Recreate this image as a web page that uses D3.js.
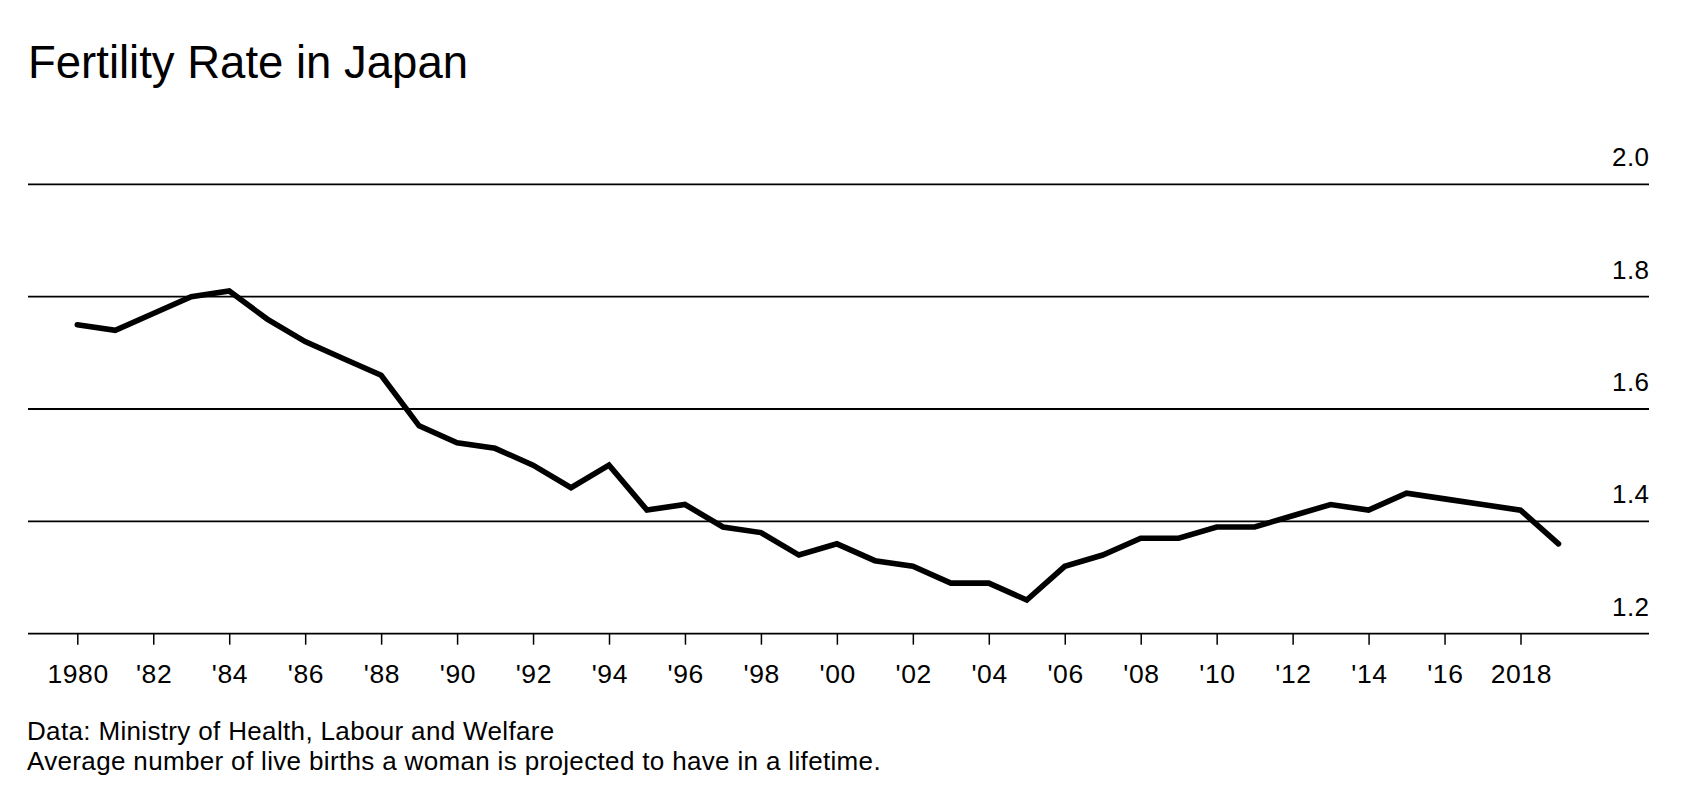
<!DOCTYPE html>
<html>
<head>
<meta charset="utf-8">
<script src="https://cdn.jsdelivr.net/npm/d3@7"></script>
<style>
  html, body { margin: 0; padding: 0; background: #fff; }
  svg { display: block; }
  text { font-family: "Liberation Sans", Arial, Helvetica, sans-serif; fill: #000; }
</style>
</head>
<body>
<svg id="chart" width="1696" height="800"></svg>
<script>
// ---- data ----
const years = [1980,1981,1982,1983,1984,1985,1986,1987,1988,1989,1990,1991,1992,1993,1994,1995,1996,1997,1998,1999,
               2000,2001,2002,2003,2004,2005,2006,2007,2008,2009,2010,2011,2012,2013,2014,2015,2016,2017,2018,2019];
const fertility = [1.75,1.74,1.77,1.80,1.81,1.76,1.72,1.69,1.66,1.57,1.54,1.53,1.50,1.46,1.50,1.42,1.43,1.39,1.38,1.34,
                   1.36,1.33,1.32,1.29,1.29,1.26,1.32,1.34,1.37,1.37,1.39,1.39,1.41,1.43,1.42,1.45,1.44,1.43,1.42,1.36];
const yTicks = [1.2, 1.4, 1.6, 1.8, 2.0];
const yTickLabels = ["1.2", "1.4", "1.6", "1.8", "2.0"];
const xTickYears = [1980,1982,1984,1986,1988,1990,1992,1994,1996,1998,2000,2002,2004,2006,2008,2010,2012,2014,2016,2018];
const xTickLabels = ["1980","'82","'84","'86","'88","'90","'92","'94","'96","'98","'00","'02","'04","'06","'08","'10","'12","'14","'16","2018"];
const titleText = "Fertility Rate in Japan";
const noteLines = ["Data: Ministry of Health, Labour and Welfare",
                   "Average number of live births a woman is projected to have in a lifetime."];

// ---- layout ----
const svg = d3.select("#chart");
const gridLeft = 28, gridRight = 1649;
const x = d3.scaleLinear().domain([1980, 2018]).range([77.3, 1520.5]);
const y = d3.scaleLinear().domain([1.2, 2.0]).range([633.7, 184.3]);

// title
svg.append("text")
  .attr("x", 28).attr("y", 78)
  .style("font-size", "45.5px")
  .text(titleText);

// gridlines
const grid = svg.append("g");
grid.selectAll("line").data(yTicks).join("line")
  .attr("x1", gridLeft).attr("x2", gridRight)
  .attr("y1", d => y(d)).attr("y2", d => y(d))
  .attr("stroke", "#000").attr("stroke-width", 1.8);

// y labels
const yl = svg.append("g");
yl.selectAll("text").data(yTicks).join("text")
  .attr("x", gridRight + 0.4).attr("y", d => y(d) - 18)
  .attr("text-anchor", "end")
  .style("font-size", "26px")
  .style("letter-spacing", "0.4px")
  .text((d, i) => yTickLabels[i]);

// x axis ticks + labels
const xAxis = d3.axisBottom(x)
  .tickValues(xTickYears)
  .tickSize(11)
  .tickPadding(0)
  .tickFormat((d, i) => xTickLabels[i]);
const gx = svg.append("g").attr("transform", `translate(0,${y(1.2)})`).call(xAxis);
gx.select(".domain").remove();
gx.selectAll(".tick line").attr("stroke", "#000").attr("stroke-width", 1.5);
gx.selectAll(".tick text")
  .attr("y", 49).attr("dy", null)
  .attr("dx", "0.3px")
  .style("font-family", '"Liberation Sans", Arial, sans-serif')
  .style("font-size", "26.5px")
  .style("letter-spacing", "0.6px")
  .attr("fill", "#000");

// line
const line = d3.line().x((d, i) => x(years[i])).y(d => y(d));
svg.append("path")
  .datum(fertility)
  .attr("d", line)
  .attr("fill", "none")
  .attr("stroke", "#000")
  .attr("stroke-width", 5.6)
  .attr("stroke-linejoin", "miter")
  .attr("stroke-linecap", "round");

// notes
const notes = svg.append("g");
notes.selectAll("text").data(noteLines).join("text")
  .attr("x", 27).attr("y", (d, i) => 739.5 + i * 30)
  .style("font-size", "26px")
  .text(d => d);
// fit second line width to target
const target = 883 - 29;
const t2 = notes.selectAll("text").nodes()[1];
const len = t2.getComputedTextLength();
const ls = (target - len) / noteLines[1].length;
notes.selectAll("text").style("letter-spacing", ls + "px");
</script>
</body>
</html>
